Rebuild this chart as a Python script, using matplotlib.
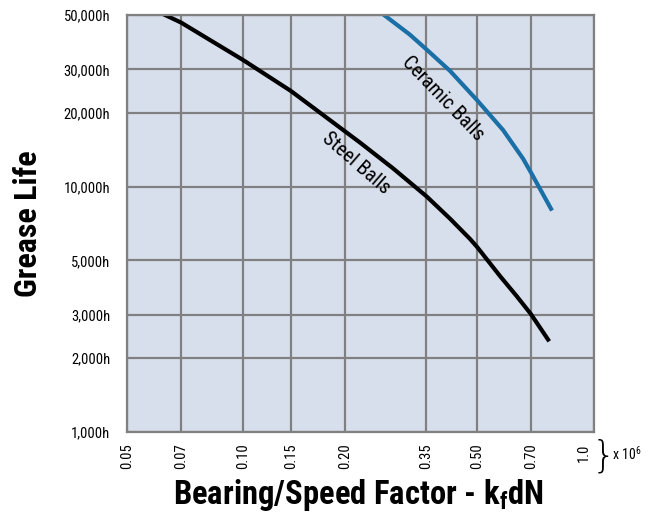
import matplotlib
matplotlib.use("Agg")
import numpy as np
from matplotlib import pyplot as plt
from matplotlib.ticker import FixedLocator, NullLocator
from matplotlib.transforms import ScaledTranslation

# grease life vs bearing/speed factor (x 10^6)
steel_x = [0.0634, 0.07, 0.10, 0.150, 0.222, 0.279,
           0.352, 0.414, 0.476, 0.50, 0.577, 0.641, 0.70, 0.771]
steel_y = [50000, 46600, 32800, 24500, 15100, 11850,
           9100, 7400, 6120, 5680, 4320, 3570, 3020, 2380]

ceramic_x = [0.262, 0.313, 0.352, 0.414, 0.50, 0.588, 0.666, 0.70, 0.784]
ceramic_y = [50000, 41600, 36100, 29600, 22500, 17000, 13000, 11400, 8120]

x_ticks = [0.05, 0.07, 0.10, 0.15, 0.20, 0.35, 0.50, 0.70, 1.0]
x_labels = ["0.05", "0.07", "0.10", "0.15", "0.20", "0.35", "0.50", "0.70", "1.0"]
y_ticks = [1000, 2000, 3000, 5000, 10000, 20000, 30000, 50000]
y_labels = ["1,000h", "2,000h", "3,000h", "5,000h", "10,000h", "20,000h", "30,000h", "50,000h"]

# the printed x axis is only roughly logarithmic: where each tick sits (axes fraction)
x_tick_frac = [0.0, 0.1156, 0.2484, 0.3512, 0.4668, 0.6403, 0.7495, 0.8651, 1.0]
LX = np.log10(x_ticks)


def fwd(x):
    return np.interp(np.log10(np.clip(x, 1e-9, None)), LX, x_tick_frac)


def inv(f):
    return 10 ** np.interp(f, x_tick_frac, LX)


plt.rcParams["font.family"] = ["Roboto Condensed", "DejaVu Sans"]

fig = plt.figure(figsize=(6.57, 5.14), dpi=100)
ax = fig.add_axes([0.1933, 0.1595, 0.9041 - 0.1933, 0.9708 - 0.1595])
ax.set_facecolor("#d8dfec")

ax.set_xscale("function", functions=(fwd, inv))
ax.set_yscale("log")
ax.set_xlim(0.05, 1.0)
ax.set_ylim(1000, 50000)

ax.xaxis.set_major_locator(FixedLocator(x_ticks))
ax.xaxis.set_minor_locator(NullLocator())
ax.set_xticklabels(x_labels, rotation=90, fontsize=10.5)
ax.yaxis.set_major_locator(FixedLocator(y_ticks))
ax.yaxis.set_minor_locator(NullLocator())
ax.set_yticklabels(y_labels, fontsize=10.5)
ax.tick_params(axis="y", length=0, pad=12)
ax.tick_params(axis="x", length=0, pad=8)
last = ax.get_xticklabels()[-1]
last.set_transform(last.get_transform() + ScaledTranslation(-0.1, 0, fig.dpi_scale_trans))

ax.grid(True, color="#808080", linewidth=1.6)
ax.set_axisbelow(True)
for s in ax.spines.values():
    s.set_color("#808080")
    s.set_linewidth(1.6)

ax.plot(steel_x, steel_y, color="black", linewidth=3)
ax.plot(ceramic_x, ceramic_y, color="#1a6fa6", linewidth=3)

ax.text(0.216, 12400, "Steel Balls", rotation=-41, fontsize=14.5,
        ha="center", va="center", rotation_mode="anchor")
ax.text(0.394, 22900, "Ceramic Balls", rotation=-46, fontsize=14.5,
        ha="center", va="center", rotation_mode="anchor")

fig.text(0.042, 0.565, "Grease Life", rotation=90, fontsize=23,
         fontweight="bold", ha="center", va="center")
fig.text(0.545, 0.037, "Bearing/Speed Factor - k$_{\\mathregular{f}}$dN", fontsize=23.5,
         fontweight="bold", ha="center", va="center")
fig.text(0.918, 0.113, "}", fontsize=27, ha="center", va="center",
         family=["DejaVu Sans"], fontweight="light")
fig.text(0.932, 0.117, "x 10$^{\\mathregular{6}}$", fontsize=10, ha="left", va="center")

fig.savefig("out.png", dpi=100)
